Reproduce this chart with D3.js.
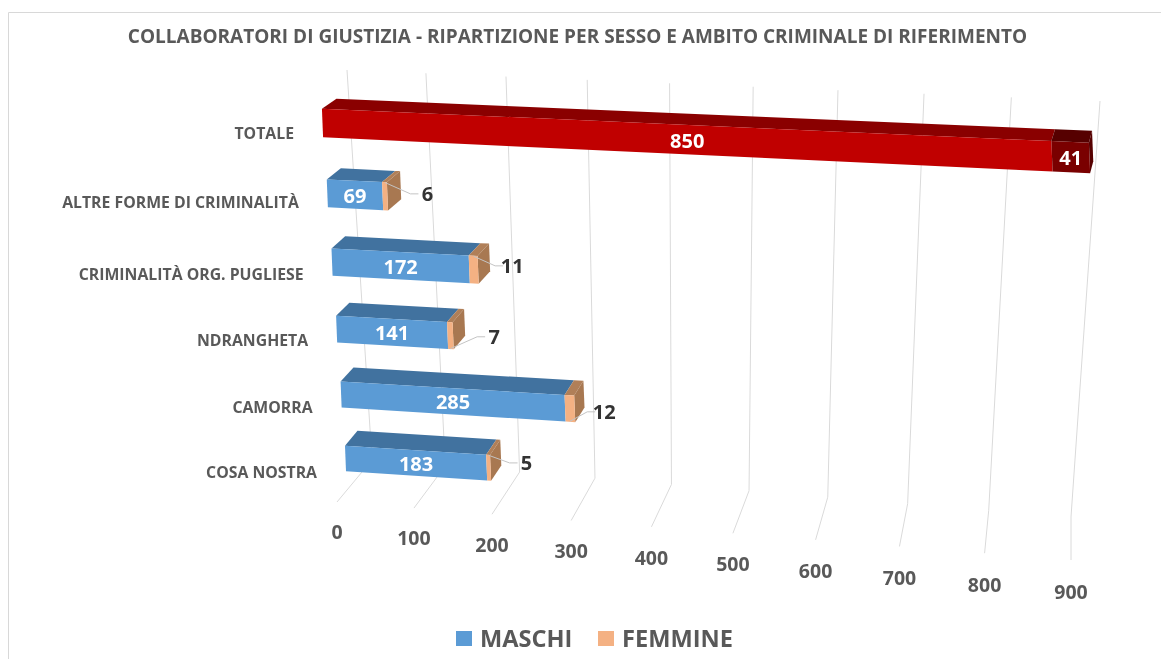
<!DOCTYPE html>
<html><head><meta charset="utf-8">
<script src="https://cdn.jsdelivr.net/npm/d3@7"></script>
<style>html,body{margin:0;padding:0;background:#fff}svg{display:block;filter:blur(0.55px)}text{font-family:"Open Sans",sans-serif}</style>
</head><body><svg id="c" width="1161" height="659"></svg>
<script>
const chartTitle="COLLABORATORI DI GIUSTIZIA - RIPARTIZIONE PER SESSO E AMBITO CRIMINALE DI RIFERIMENTO";
const categories=["COSA NOSTRA","CAMORRA","NDRANGHETA","CRIMINALITÀ ORG. PUGLIESE","ALTRE FORME DI CRIMINALITÀ","TOTALE"];
const maschi=[183,285,141,172,69,850];
const femmine=[5,12,7,11,6,41];
const ticks=[0,100,200,300,400,500,600,700,800,900];
const seriesNames=["MASCHI","FEMMINE"];
// layout of the outside labels, per category (the last has an inside label)
const labelDx=[36,29.5,41,34,40,0], labelDy=[-5,3,1,-4,-2.5,0];

const svg=d3.select("#c");
// perspective value scale
const tScale=d3.scaleLinear().domain([0,900]).range([0,1]);
const kV=0.0674,kR=0.062;
const p=v=>{const t=tScale(v);return t/(1+kV*(1-t));};
const rowScale=d3.scaleLinear().domain([0,5]).range([0,1]);
const g=i=>{const s=rowScale(i);return s/(1+kR*(1-s));};
// front plane edges
const leftX=d3.scaleLinear().domain([0,1]).range([345.5,322.5]);
const leftY=d3.scaleLinear().domain([0,1]).range([458.5,123]);
const rightX=d3.scaleLinear().domain([0,1]).range([1077,1097.8]);
const rightY=d3.scaleLinear().domain([0,1]).range([506,158.4]);
function center(v,i){const G=g(i),P=p(v);return [leftX(G)+(rightX(G)-leftX(G))*P,leftY(G)+(rightY(G)-leftY(G))*P];}
function corners(v,i){
  const G=g(i),P=p(v),[x,y]=center(v,i);
  const hh=(12.7+1.6*G)*(1+0.07*P);
  const dx=14.5-11.5*P-(1-G)*2, dy=-(15-5*G+2*P);
  const ft=[x-hh*0.04,y-hh], fb=[x+hh*0.04,y+hh];
  return {ft,fb,bt:[ft[0]+dx,ft[1]+dy],bb:[fb[0]+dx,fb[1]+dy]};
}
const poly=a=>a.map(d=>d.join(",")).join(" ");
// grid edges
const edge=(a,b,c,d)=>[d3.scaleLinear().domain([0,1]).range([a,b]),d3.scaleLinear().domain([0,1]).range([c,d])];
const [topX,topY]=edge(347,1100,70,101);
const [cornX,cornY]=edge(372,1071,460,517);
const [frontX,frontY]=edge(337,1071,502,560);

// frame
svg.append("path").attr("d","M8.5,659V12.5H1161").attr("fill","none").attr("stroke","#d8d8d8").attr("stroke-width",1);
// title
svg.append("text").attr("x",577.5).attr("y",43).attr("text-anchor","middle").attr("fill","#595959")
  .attr("font-size",19).attr("font-weight",700).text(chartTitle);
// grid
svg.append("g").selectAll("polyline").data(ticks).join("polyline")
  .attr("points",v=>{const P=p(v);return poly([[topX(P),topY(P)],[cornX(P),cornY(P)],[frontX(P),frontY(P)]]);})
  .attr("fill","none").attr("stroke","#dadada").attr("stroke-width",1);
// tick labels
svg.append("g").selectAll("text").data(ticks).join("text")
  .attr("x",v=>frontX(p(v))).attr("y",v=>frontY(p(v))+30+2*tScale(v)+7)
  .attr("text-anchor","middle").attr("fill","#595959").attr("font-size",19.5).attr("font-weight",700).text(d=>d);
// category labels
const catDy=[13.5,12.5,11.5,12,9.5,10];
svg.append("g").selectAll("text").data(categories).join("text")
  .attr("x",(d,i)=>leftX(g(i))-28.5).attr("y",(d,i)=>leftY(g(i))+catDy[i]+5.5)
  .attr("text-anchor","end").attr("fill","#595959").attr("font-size",15.8).attr("font-weight",700).text(d=>d);

const palette={
  m:{front:"#5B9BD5",top:"#41729F",side:"#41729F"},
  f:{front:"#F4B183",top:"#B07F58",side:"#A87851"},
  tm:{front:"#C00000",top:"#8A0000",side:"#8A0000"},
  tf:{front:"#7A0000",top:"#560000",side:"#560000"}
};
const bars=svg.append("g");
function seg(a,b,i,col,withSide){
  const A=corners(a,i),B=corners(b,i);
  bars.append("polygon").attr("points",poly([A.ft,A.bt,B.bt,B.ft])).attr("fill",col.top);
  if(withSide)bars.append("polygon").attr("points",poly([B.ft,B.bt,B.bb,B.fb])).attr("fill",col.side);
  bars.append("polygon").attr("points",poly([A.ft,B.ft,B.fb,A.fb])).attr("fill",col.front);
}
categories.forEach((c,i)=>{
  const tot=i===5;
  seg(0,maschi[i],i,tot?palette.tm:palette.m,false);
  seg(maschi[i],maschi[i]+femmine[i],i,tot?palette.tf:palette.f,true);
});
// value labels, centred on the drawn front face
const labels=svg.append("g");
categories.forEach((c,i)=>{
  const m=maschi[i],f=femmine[i],e=m+f;
  const [ax,ay]=center(0,i),[bx,by]=center(m,i);
  labels.append("text").attr("x",(ax+bx)/2).attr("y",(ay+by)/2+8).attr("text-anchor","middle").attr("fill","#fff")
    .attr("font-size",20).attr("font-weight",700).text(m);
  if(i===5){
    const [fx,fy]=center(m+f/2,i);
    labels.append("text").attr("x",fx).attr("y",fy+8).attr("text-anchor","middle").attr("fill","#fff")
      .attr("font-size",20).attr("font-weight",700).text(f);
    return;
  }
  const [ex,ey]=center(e,i),[sx,sy]=center(m+f/2,i);
  const lx=ex+labelDx[i],ly=ey+labelDy[i];
  const hh=(12.5+1.5*g(i));
  const sY=sy+(labelDy[i]>0?hh:-hh);
  labels.append("polyline").attr("points",poly([[sx,sY],[lx-17,ly],[lx-9,ly]])).attr("fill","none").attr("stroke","#c4c4c4").attr("stroke-width",1);
  labels.append("text").attr("x",lx).attr("y",ly+7.5).attr("text-anchor","middle").attr("fill","#333")
    .attr("font-size",20).attr("font-weight",700).text(f);
});
// legend
const legX=d3.scaleOrdinal().domain(seriesNames).range([456,598]);
const legCol=d3.scaleOrdinal().domain(seriesNames).range([palette.m.front,palette.f.front]);
const leg=svg.append("g").selectAll("g").data(seriesNames).join("g").attr("transform",d=>`translate(${legX(d)},631)`);
leg.append("rect").attr("width",16).attr("height",15).attr("fill",d=>legCol(d));
leg.append("text").attr("x",24).attr("y",16).attr("fill","#595959").attr("font-size",23.6).attr("font-weight",700).text(d=>d);
</script></body></html>
